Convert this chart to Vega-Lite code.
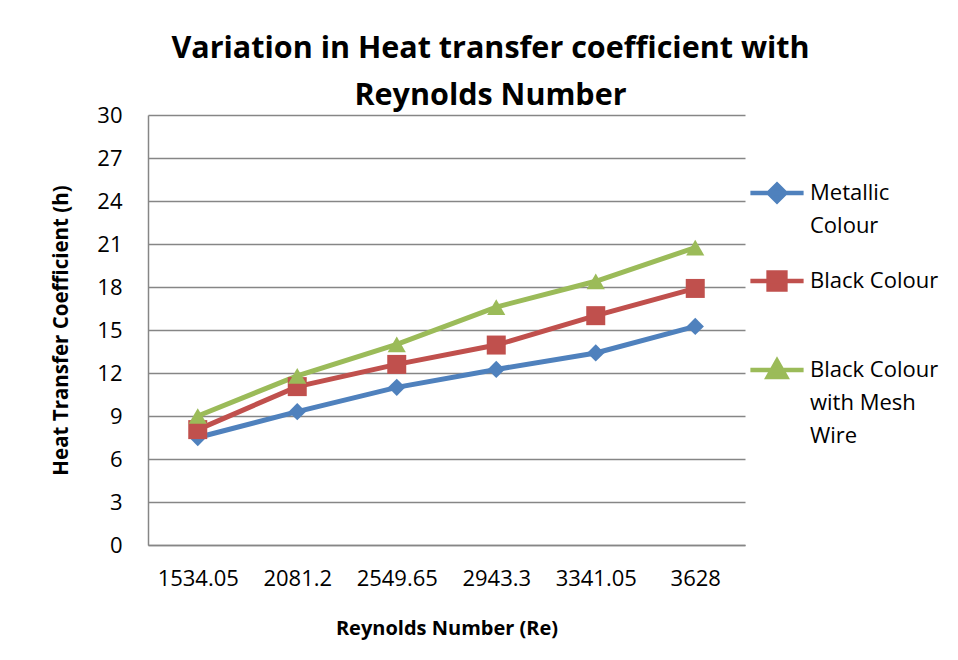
{
  "$schema": "https://vega.github.io/schema/vega-lite/v6.json",
  "width": 597,
  "height": 430,
  "autosize": {"type": "none"},
  "padding": {"left": 148, "top": 115, "right": 213, "bottom": 115},
  "background": "white",
  "config": {
    "font": "Open Sans",
    "view": {"stroke": null},
    "axis": {"labelColor": "black", "titleColor": "black", "domainColor": "#868686", "domainWidth": 1.5, "tickColor": "#868686", "gridColor": "#868686"}
  },
  "title": {
    "text": ["Variation in Heat transfer coefficient with", "Reynolds Number"],
    "fontSize": 30.5,
    "fontWeight": "bold",
    "font": "Open Sans",
    "color": "black",
    "anchor": "middle",
    "dx": 44,
    "lineHeight": 47,
    "offset": -7
  },
  "data": {
    "values": [
      {"Re": "1534.05", "series": "Metallic Colour", "h": 7.5},
      {"Re": "2081.2", "series": "Metallic Colour", "h": 9.3},
      {"Re": "2549.65", "series": "Metallic Colour", "h": 11.0},
      {"Re": "2943.3", "series": "Metallic Colour", "h": 12.25},
      {"Re": "3341.05", "series": "Metallic Colour", "h": 13.4},
      {"Re": "3628", "series": "Metallic Colour", "h": 15.25},
      {"Re": "1534.05", "series": "Black Colour", "h": 8.05},
      {"Re": "2081.2", "series": "Black Colour", "h": 11.05},
      {"Re": "2549.65", "series": "Black Colour", "h": 12.6},
      {"Re": "2943.3", "series": "Black Colour", "h": 13.95},
      {"Re": "3341.05", "series": "Black Colour", "h": 16.0},
      {"Re": "3628", "series": "Black Colour", "h": 17.9},
      {"Re": "1534.05", "series": "Black Colour with Mesh Wire", "h": 9.0},
      {"Re": "2081.2", "series": "Black Colour with Mesh Wire", "h": 11.8},
      {"Re": "2549.65", "series": "Black Colour with Mesh Wire", "h": 14.0},
      {"Re": "2943.3", "series": "Black Colour with Mesh Wire", "h": 16.6},
      {"Re": "3341.05", "series": "Black Colour with Mesh Wire", "h": 18.4},
      {"Re": "3628", "series": "Black Colour with Mesh Wire", "h": 20.75}
    ]
  },
  "encoding": {
    "x": {
      "field": "Re",
      "type": "ordinal",
      "sort": null,
      "scale": {"type": "point", "padding": 0.5},
      "axis": {
        "title": "Reynolds Number (Re)",
        "titleFontSize": 20,
        "titleFontWeight": "bold",
        "titlePadding": 29,
        "labelFontSize": 22,
        "labelAngle": 0,
        "labelPadding": 23,
        "ticks": false,
        "grid": false
      }
    },
    "y": {
      "field": "h",
      "type": "quantitative",
      "scale": {"domain": [0, 30], "nice": false},
      "axis": {
        "title": "Heat Transfer Coefficient (h)",
        "titleFontSize": 20.5,
        "titleFontWeight": "bold",
        "titlePadding": 25,
        "labelFontSize": 22,
        "labelPadding": 26,
        "values": [0, 3, 6, 9, 12, 15, 18, 21, 24, 27, 30],
        "ticks": false,
        "grid": true,
        "gridWidth": 1.5
      }
    },
    "color": {
      "field": "series",
      "type": "nominal",
      "sort": ["Metallic Colour", "Black Colour", "Black Colour with Mesh Wire"],
      "scale": {"domain": ["Metallic Colour", "Black Colour", "Black Colour with Mesh Wire"], "range": ["#4F81BD", "#C0504D", "#9BBB59"]},
      "legend": {
        "title": null,
        "orient": "none",
        "legendX": 618,
        "legendY": 67,
        "symbolSize": 196,
        "labelFontSize": 22,
        "labelOffset": 22,
        "labelLimit": 300,
        "rowPadding": -7,
        "labelExpr": "datum.label == 'Metallic Colour' ? ['Metallic', 'Colour', ' '] : datum.label == 'Black Colour' ? ['Black Colour', ' ', ' '] : ['Black Colour', 'with Mesh', 'Wire']",
        "encode": {
          "labels": {"update": {"lineHeight": {"value": 33}}},
          "symbols": {"update": {
            "shape": {"signal": "datum.value == 'Metallic Colour' ? 'M-3.8,0H3.8M0,-1.2L1.2,0L0,1.2L-1.2,0Z' : datum.value == 'Black Colour' ? 'M-3.8,0H3.8M-1.2,-1.2H1.2V1.2H-1.2Z' : 'M-3.8,0H3.8M0,-1.3L1.3,1H-1.3Z'"},
            "strokeWidth": {"value": 4.5},
            "opacity": {"value": 1}
          }}
        }
      }
    }
  },
  "layer": [
    {"mark": {"type": "line", "strokeWidth": 5}},
    {
      "transform": [{"filter": "datum.series == 'Metallic Colour'"}],
      "mark": {"type": "point", "shape": "diamond", "filled": true, "opacity": 1, "size": 300}
    },
    {
      "transform": [{"filter": "datum.series == 'Black Colour'"}],
      "mark": {"type": "point", "shape": "square", "filled": true, "opacity": 1, "size": 361}
    },
    {
      "transform": [{"filter": "datum.series == 'Black Colour with Mesh Wire'"}],
      "mark": {"type": "point", "shape": "triangle-up", "filled": true, "opacity": 1, "size": 330}
    }
  ]
}
